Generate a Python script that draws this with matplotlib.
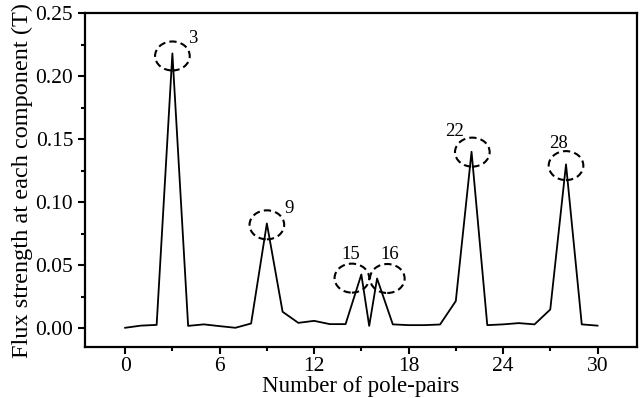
import matplotlib
matplotlib.use("Agg")
import matplotlib.pyplot as plt
from matplotlib.patches import Ellipse
from matplotlib.ticker import MultipleLocator

plt.rcParams['font.family'] = ['Liberation Serif', 'DejaVu Serif']

# harmonic order and flux density of each component
pole_pairs = [0, 1, 2, 3, 4, 5, 6, 7, 8, 9, 10, 11, 12, 13, 14, 15, 15.5, 16,
              17, 18, 19, 20, 21, 22, 23, 24, 25, 26, 27, 28, 29, 30]
flux = [0.0003, 0.002, 0.0026, 0.218, 0.0018, 0.003, 0.0016, 0.0003, 0.0037,
        0.0831, 0.013, 0.0042, 0.0058, 0.0032, 0.0032, 0.0426, 0.0018, 0.0394,
        0.003, 0.0024, 0.0024, 0.0029, 0.0215, 0.140, 0.0024, 0.003, 0.004,
        0.003, 0.0148, 0.130, 0.003, 0.002]

# highlighted harmonics: (label, ellipse centre x, y, label x, y)
marks = [
    ("3", 3.0, 0.216, 4.3, 0.230),
    ("9", 9.0, 0.082, 10.4, 0.095),
    ("15", 14.4, 0.0397, 14.3, 0.0585),
    ("16", 16.65, 0.0394, 16.8, 0.0585),
    ("22", 22.05, 0.1397, 20.9, 0.156),
    ("28", 28.0, 0.129, 27.55, 0.1466),
]

fig = plt.figure(figsize=(6.42, 3.98), dpi=100)
ax = fig.add_axes([0.1324, 0.128, 0.8596, 0.839])

ax.plot(pole_pairs, flux, color='black', lw=1.3)

for lab, cx, cy, tx, ty in marks:
    ax.add_patch(Ellipse((cx, cy), 2.2, 0.023, fill=False, ec='black',
                         lw=1.5, ls=(0, (3.5, 2))))
    ax.text(tx, ty, lab, fontsize=13.5, ha='center', va='center')

ax.set_xlim(-2.55, 32.5)
ax.set_ylim(-0.015, 0.25)
ax.xaxis.set_major_locator(MultipleLocator(6))
ax.xaxis.set_minor_locator(MultipleLocator(3))
ax.yaxis.set_major_locator(MultipleLocator(0.05))
ax.yaxis.set_minor_locator(MultipleLocator(0.025))
ax.yaxis.set_major_formatter(matplotlib.ticker.FormatStrFormatter('%.2f'))

ax.tick_params(which='major', direction='out', length=5, width=1.5, labelsize=15.5)
ax.tick_params(which='minor', direction='out', length=3, width=1.5)
ax.tick_params(axis='x', pad=2)
for s in ax.spines.values():
    s.set_linewidth(1.6)

ax.set_xlabel("Number of pole-pairs", fontsize=16.5, labelpad=0)
ax.set_ylabel("Flux strength at each component (T)", fontsize=17.5, labelpad=2)

fig.savefig("out.png", dpi=100)
